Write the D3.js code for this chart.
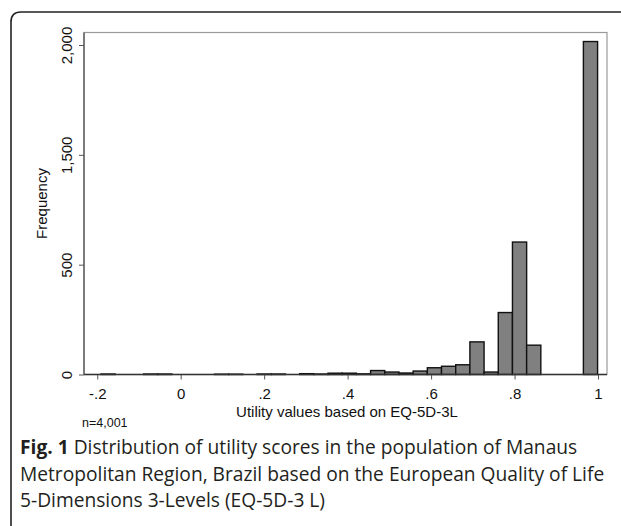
<!DOCTYPE html>
<html>
<head>
<meta charset="utf-8">
<script src="https://cdn.jsdelivr.net/npm/d3@7"></script>
<style>
  body { margin: 0; background: #fff; }
  svg { display: block; }
  .tick text { font-family: "Liberation Sans", Arial, sans-serif; }
</style>
</head>
<body>
<div id="chart"></div>
<script>
// histogram bins (left edge of each bin) and frequencies
var binLo = [-0.191, -0.157, -0.123, -0.089, -0.055, -0.021, 0.013, 0.047, 0.081, 0.115,
  0.149, 0.183, 0.217, 0.251, 0.285, 0.319, 0.353, 0.387, 0.421, 0.455,
  0.489, 0.523, 0.557, 0.591, 0.625, 0.659, 0.693, 0.727, 0.761, 0.795,
  0.829, 0.863, 0.897, 0.931, 0.965]
var counts = [3, 0, 0, 3, 3, 0, 0, 0, 2, 2,
  0, 3, 3, 0, 5, 3, 8, 8, 4, 24,
  15, 9, 21, 41, 50, 59, 198, 15, 376, 804,
  178, 0, 0, 0, 2021]
var binWidth = 0.034

var xTicks = [-0.2, 0, 0.2, 0.4, 0.6, 0.8, 1]
var xTickLabels = ["-.2", "0", ".2", ".4", ".6", ".8", "1"]
// y axis labels as printed (evenly spaced on the axis)
var yTickValues = [0, 2000 / 3, 4000 / 3, 2000]
var yTickLabels = ["0", "500", "1,500", "2,000"]

var svgWidth = 621
var svgHeight = 526

var plot = { left: 84, right: 607, top: 32.5, bottom: 374.5 }
var axisFont = "Liberation Sans, Arial, sans-serif"

var svg = d3.select("#chart")
  .append("svg")
  .attr("width", svgWidth)
  .attr("height", svgHeight)

// figure frame (rounded top-left corner, open to right and bottom)
svg.append("path")
  .attr("d", "M11,526 L11,22 Q11,12 21,12 L621,12")
  .attr("fill", "none")
  .attr("stroke", "#222")
  .attr("stroke-width", 1.6)

var x = d3.scaleLinear()
  .domain([0, 1])
  .range([180.7, 598])

var y = d3.scaleLinear()
  .domain([0, 2000])
  .range([plot.bottom, 45])

// plot region outline
svg.append("rect")
  .attr("x", plot.left)
  .attr("y", plot.top)
  .attr("width", plot.right - plot.left)
  .attr("height", plot.bottom - plot.top)
  .attr("fill", "none")
  .attr("stroke", "#9a9a9a")
  .attr("stroke-width", 1.2)

// bars
var bars = binLo.map((lo, i) => ({ lo: lo, n: counts[i] })).filter(d => d.n > 0)

svg.append("g")
  .selectAll("rect")
  .data(bars)
  .enter()
  .append("rect")
  .attr("x", d => x(d.lo))
  .attr("y", d => y(d.n))
  .attr("width", d => x(d.lo + binWidth) - x(d.lo))
  .attr("height", d => y(0) - y(d.n))
  .attr("fill", "#808080")
  .attr("stroke", "#111")
  .attr("stroke-width", 1.4)

// axes
var bottomAxis = d3.axisBottom(x)
  .tickValues(xTicks)
  .tickFormat((d, i) => xTickLabels[i])
  .tickSize(5)
  .tickPadding(9)

var leftAxis = d3.axisLeft(y)
  .tickValues(yTickValues)
  .tickFormat((d, i) => yTickLabels[i])
  .tickSize(5)
  .tickPadding(5)

var xAxis = svg.append("g")
  .attr("transform", `translate(0, ${plot.bottom})`)
  .call(bottomAxis)
xAxis.select(".domain").remove()
xAxis.append("line")
  .attr("x1", plot.left).attr("x2", plot.right)
  .attr("stroke", "#333").attr("stroke-width", 1.3)
xAxis.selectAll(".tick line").attr("stroke", "#555")
xAxis.selectAll(".tick text")
  .attr("fill", "#111")
  .style("font-size", "15px")

var yAxis = svg.append("g")
  .attr("transform", `translate(${plot.left}, 0)`)
  .call(leftAxis)
yAxis.select(".domain").remove()
yAxis.append("line")
  .attr("y1", plot.top).attr("y2", plot.bottom)
  .attr("stroke", "#555").attr("stroke-width", 1.3)
yAxis.selectAll(".tick line").attr("stroke", "#555")
yAxis.selectAll(".tick text")
  .attr("fill", "#111")
  .attr("text-anchor", "middle")
  .attr("dy", null)
  .attr("x", null)
  .attr("transform", "translate(-12, 0) rotate(-90)")
  .style("font-size", "15px")

// axis titles
svg.append("text")
  .attr("transform", `translate(${47}, ${(plot.top + plot.bottom) / 2}) rotate(-90)`)
  .attr("text-anchor", "middle")
  .style("font-family", axisFont)
  .style("font-size", "15px")
  .attr("fill", "#111")
  .text("Frequency")

svg.append("text")
  .attr("x", 347)
  .attr("y", 417)
  .attr("text-anchor", "middle")
  .style("font-family", axisFont)
  .style("font-size", "15px")
  .attr("fill", "#111")
  .text("Utility values based on EQ-5D-3L")

svg.append("text")
  .attr("x", 82)
  .attr("y", 427)
  .style("font-family", axisFont)
  .style("font-size", "12.5px")
  .attr("fill", "#111")
  .text("n=4,001")

// caption
var captionLines = [
  "Distribution of utility scores in the population of Manaus",
  "Metropolitan Region, Brazil based on the European Quality of Life",
  "5-Dimensions 3-Levels (EQ-5D-3 L)"
]

var caption = svg.append("text")
  .style("font-family", "Open Sans, sans-serif")
  .style("font-size", "19.2px")
  .attr("fill", "#231f20")

captionLines.forEach(function(line, i) {
  var t = caption.append("tspan")
    .attr("x", 20)
    .attr("y", 454 + i * 26.5)
  if (i === 0) {
    t.append("tspan").style("font-weight", "bold").text("Fig. 1")
    t.append("tspan").text(" " + line)
  } else {
    t.text(line)
  }
})
</script>
</body>
</html>
